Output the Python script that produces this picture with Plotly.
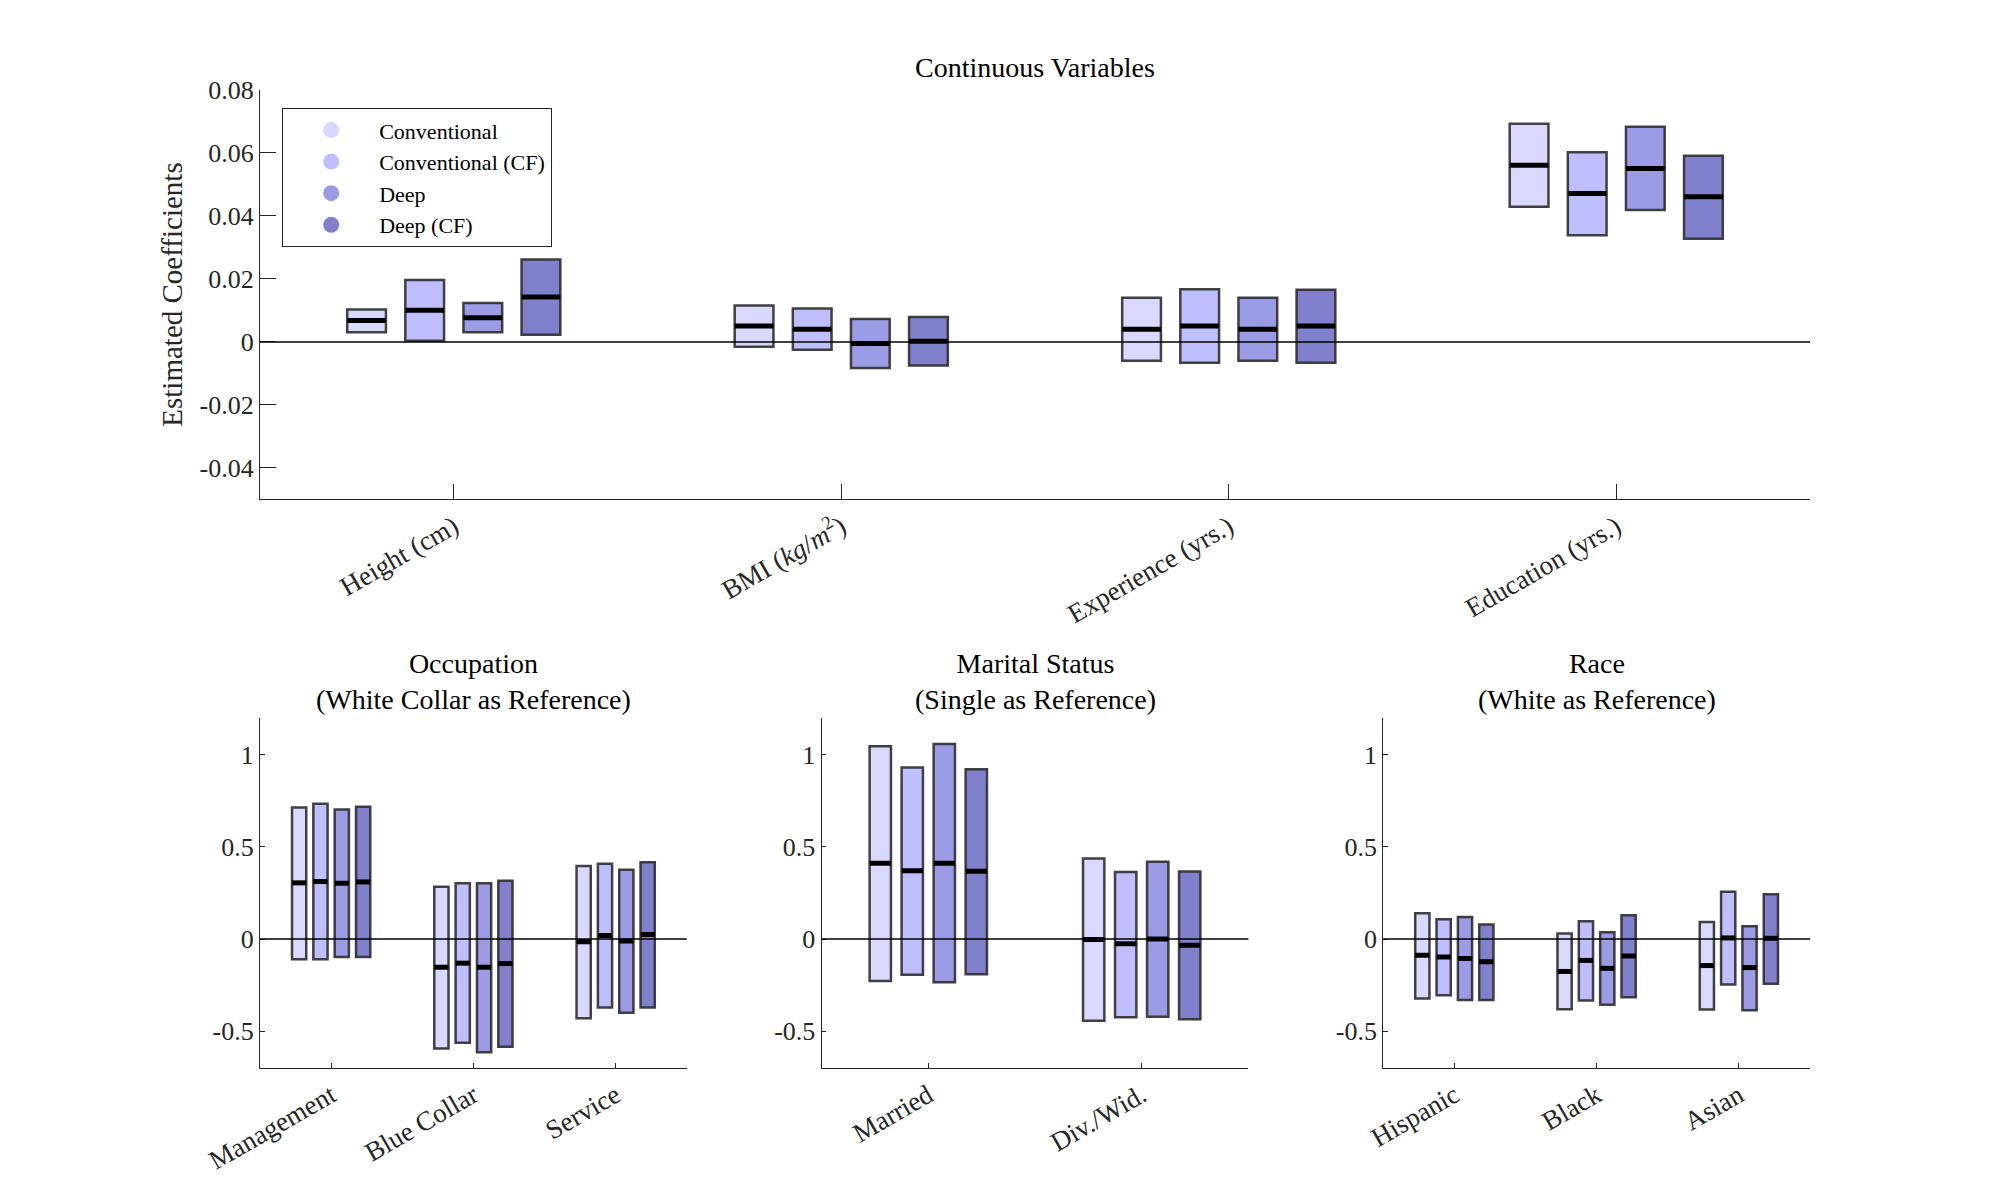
import plotly.graph_objects as go

# ---------------- data ----------------
series_names = ["Conventional", "Conventional (CF)", "Deep", "Deep (CF)"]

cont_labels = ["Height (cm)", "BMI (<i>kg</i>/<i>m</i><sup>2</sup>)", "Experience (yrs.)", "Education (yrs.)"]
cont_hi = [[0.0103, 0.0197, 0.0124, 0.0262],
           [0.0116, 0.0106, 0.0073, 0.0079],
           [0.0140, 0.0167, 0.0140, 0.0166],
           [0.0693, 0.0602, 0.0683, 0.0591]]
cont_med = [[0.0068, 0.0101, 0.0077, 0.0143],
            [0.0051, 0.0040, -0.0005, 0.0002],
            [0.0040, 0.0051, 0.0040, 0.0051],
            [0.0561, 0.0471, 0.0551, 0.0461]]
cont_lo = [[0.0031, 0.0004, 0.0031, 0.0023],
           [-0.0015, -0.0025, -0.0083, -0.0075],
           [-0.0060, -0.0066, -0.0060, -0.0066],
           [0.0429, 0.0339, 0.0419, 0.0328]]

occ_labels = ["Management", "Blue Collar", "Service"]
occ_hi = [[0.714, 0.735, 0.703, 0.718], [0.284, 0.303, 0.303, 0.316], [0.396, 0.409, 0.376, 0.417]]
occ_med = [[0.305, 0.312, 0.303, 0.310], [-0.153, -0.131, -0.153, -0.133], [-0.015, 0.019, -0.011, 0.024]]
occ_lo = [[-0.110, -0.110, -0.097, -0.097], [-0.594, -0.563, -0.615, -0.585], [-0.430, -0.372, -0.400, -0.372]]

mar_labels = ["Married", "Div./Wid."]
mar_hi = [[1.047, 0.931, 1.058, 0.921], [0.437, 0.364, 0.419, 0.366]]
mar_med = [[0.411, 0.370, 0.411, 0.368], [-0.002, -0.026, 0.000, -0.034]]
mar_lo = [[-0.228, -0.194, -0.234, -0.191], [-0.443, -0.424, -0.422, -0.436]]

race_labels = ["Hispanic", "Black", "Asian"]
race_hi = [[0.140, 0.108, 0.120, 0.079], [0.030, 0.097, 0.037, 0.129], [0.093, 0.256, 0.069, 0.243]]
race_med = [[-0.088, -0.097, -0.105, -0.123], [-0.176, -0.116, -0.159, -0.092], [-0.144, 0.006, -0.155, 0.004]]
race_lo = [[-0.323, -0.305, -0.331, -0.331], [-0.381, -0.333, -0.357, -0.316], [-0.383, -0.247, -0.387, -0.243]]

cont_yticks = [-0.04, -0.02, 0, 0.02, 0.04, 0.06, 0.08]
cont_yticktext = ["-0.04", "-0.02", "0", "0.02", "0.04", "0.06", "0.08"]
cat_yticks = [-0.5, 0, 0.5, 1]
cat_yticktext = ["-0.5", "0", "0.5", "1"]

# ---------------- style ----------------
FONT = "Liberation Serif"
AXC = "#262626"
series_colors = ["#d9d9ff", "#bfbfff", "#9b9be6", "#8080cc"]
series_offsets = [-0.225, -0.075, 0.075, 0.225]
BAR_W = 0.1
EDGE = "rgba(45,45,45,0.9)"

panels = [
    dict(sfx="", labels=cont_labels, lo=cont_lo, med=cont_med, hi=cont_hi,
         dx=[0.13, 0.905], dy=[0.5838, 0.925], yr=[-0.05, 0.08],
         yt=cont_yticks, ytt=cont_yticktext, tl=15.5, title="Continuous Variables", tpad=0.004),
    dict(sfx="2", labels=occ_labels, lo=occ_lo, med=occ_med, hi=occ_hi,
         dx=[0.13, 0.3434], dy=[0.11, 0.4017], yr=[-0.7, 1.2],
         yt=cat_yticks, ytt=cat_yticktext, tl=4.5, title="Occupation<br>(White Collar as Reference)", tpad=0.001),
    dict(sfx="3", labels=mar_labels, lo=mar_lo, med=mar_med, hi=mar_hi,
         dx=[0.4108, 0.6242], dy=[0.11, 0.4017], yr=[-0.7, 1.2],
         yt=cat_yticks, ytt=cat_yticktext, tl=4.5, title="Marital Status<br>(Single as Reference)", tpad=0.001),
    dict(sfx="4", labels=race_labels, lo=race_lo, med=race_med, hi=race_hi,
         dx=[0.6916, 0.905], dy=[0.11, 0.4017], yr=[-0.7, 1.2],
         yt=cat_yticks, ytt=cat_yticktext, tl=4.5, title="Race<br>(White as Reference)", tpad=0.001),
]

fig = go.Figure()
layout = dict(width=2000, height=1200, margin=dict(l=0, r=0, t=0, b=0),
              paper_bgcolor="white", plot_bgcolor="white", barmode="overlay",
              font=dict(family=FONT, size=26, color=AXC))
shapes = []
annotations = []

for p in panels:
    xa = "x" + p["sfx"]
    ya = "y" + p["sfx"]
    ncat = len(p["labels"])
    for s in range(4):
        xs = [i + 1 + series_offsets[s] for i in range(ncat)]
        lo = [p["lo"][i][s] for i in range(ncat)]
        hi = [p["hi"][i][s] for i in range(ncat)]
        fig.add_trace(go.Bar(
            x=xs, y=[h - l for h, l in zip(hi, lo)], base=lo, width=BAR_W,
            marker=dict(color=series_colors[s], line=dict(color=EDGE, width=2.5)),
            xaxis=xa, yaxis=ya, showlegend=False, hoverinfo="skip"))
    for s in range(4):
        mx, my = [], []
        for i in range(ncat):
            c = i + 1 + series_offsets[s]
            m = p["med"][i][s]
            mx += [c - BAR_W / 2, c + BAR_W / 2, None]
            my += [m, m, None]
        fig.add_trace(go.Scatter(x=mx, y=my, mode="lines", line=dict(color="black", width=5),
                                 xaxis=xa, yaxis=ya, showlegend=False, hoverinfo="skip"))
    axkey = "xaxis" + p["sfx"]
    aykey = "yaxis" + p["sfx"]
    layout[axkey] = dict(domain=p["dx"], range=[0.5, ncat + 0.5], anchor=ya,
                         tickvals=list(range(1, ncat + 1)), ticktext=p["labels"], tickangle=-30,
                         showline=True, linecolor=AXC, linewidth=1.2, ticks="inside",
                         ticklen=p["tl"], tickcolor=AXC, tickwidth=1, showgrid=False,
                         zeroline=False, tickfont=dict(family=FONT, size=27, color=AXC),
                         automargin=False, fixedrange=True)
    layout[aykey] = dict(domain=p["dy"], range=p["yr"], anchor=xa,
                         tickvals=p["yt"], ticktext=p["ytt"],
                         showline=True, linecolor=AXC, linewidth=1.2, ticks="inside",
                         ticklen=p["tl"], tickcolor=AXC, tickwidth=1, showgrid=False,
                         zeroline=False, tickfont=dict(family=FONT, size=26, color=AXC),
                         automargin=False, fixedrange=True)
    shapes.append(dict(type="line", xref=xa + " domain", yref=ya, x0=0, x1=1, y0=0, y1=0,
                       line=dict(color="black", width=1.5), layer="above"))
    annotations.append(dict(text=p["title"], xref="paper", yref="paper",
                            x=(p["dx"][0] + p["dx"][1]) / 2, y=p["dy"][1] + p["tpad"],
                            xanchor="center", yanchor="bottom", showarrow=False,
                            font=dict(family=FONT, size=28, color="black")))

annotations.append(dict(text="Estimated Coefficients", xref="paper", yref="paper",
                        x=0.086, y=(0.5838 + 0.925) / 2, xanchor="center", yanchor="middle",
                        textangle=-90, showarrow=False,
                        font=dict(family=FONT, size=29, color=AXC)))

for s in range(4):
    fig.add_trace(go.Scatter(x=[None], y=[None], mode="markers", name=series_names[s],
                             marker=dict(symbol="circle", size=16, color=series_colors[s]),
                             xaxis="x", yaxis="y", showlegend=True))

layout["legend"] = dict(x=0.141, y=0.91, xanchor="left", yanchor="top",
                        bgcolor="white", bordercolor=AXC, borderwidth=1.2,
                        font=dict(family=FONT, size=22, color="black"),
                        tracegroupgap=0, itemwidth=86)
layout["shapes"] = shapes
layout["annotations"] = annotations
layout["showlegend"] = True
fig.update_layout(**layout)
fig.write_html("out.html")
